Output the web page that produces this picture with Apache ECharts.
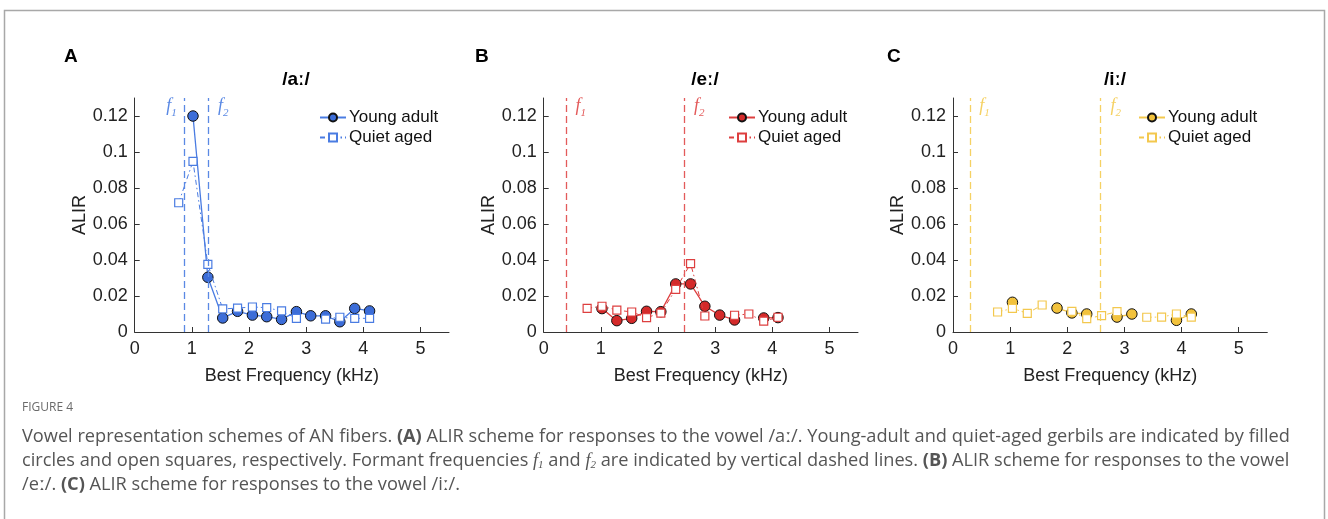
<!DOCTYPE html>
<html>
<head>
<meta charset="utf-8">
<script src="https://cdn.jsdelivr.net/npm/echarts@6/dist/echarts.min.js"></script>
<style>
html,body{margin:0;padding:0;background:#fff;}
#chart{width:1328px;height:519px;}
</style>
</head>
<body>
<div id="chart"></div>
<script>
// ---------- data ----------
const xTicks = [0, 1, 2, 3, 4, 5];
const yTicks = [0, 0.02, 0.04, 0.06, 0.08, 0.1, 0.12];
const panelLetters = ['A', 'B', 'C'];
const vowels = ['/aː/', '/eː/', '/iː/'];
const seriesNames = ['Young adult', 'Quiet aged'];

const aFreq  = [0.77, 1.02, 1.28, 1.54, 1.80, 2.06, 2.31, 2.57, 2.83, 3.08, 3.34, 3.59, 3.85, 4.11];
const aYoung = [null, 0.120, 0.0304, 0.0078, 0.0115, 0.0094, 0.0085, 0.0070, 0.0113, 0.0090, 0.0090, 0.0057, 0.0131, 0.0117];
const aQuiet = [0.0718, 0.0948, 0.0376, 0.0128, 0.0133, 0.0139, 0.0135, 0.0117, 0.0076, null, 0.0072, 0.0082, 0.0076, 0.0076];
const aFormants = [0.856, 1.28];

const bFreq  = [0.76, 1.02, 1.28, 1.54, 1.80, 2.05, 2.31, 2.57, 2.82, 3.08, 3.34, 3.59, 3.85, 4.10];
const bYoung = [null, 0.0130, 0.0063, 0.0076, 0.0115, 0.0113, 0.0267, 0.0267, 0.0143, 0.0094, 0.0067, null, 0.0078, 0.0080];
const bQuiet = [0.0131, 0.0143, 0.0122, 0.0111, 0.0080, 0.0105, 0.0237, 0.0380, 0.0089, null, 0.0093, 0.0100, 0.0060, 0.0082];
const bFormants = [0.40, 2.46];

const cFreq  = [0.78, 1.04, 1.30, 1.56, 1.82, 2.08, 2.34, 2.60, 2.87, 3.13, 3.39, 3.65, 3.91, 4.17];
const cYoung = [null, 0.0165, null, null, 0.0133, 0.0106, 0.0100, null, 0.0083, 0.0100, null, null, 0.0065, 0.0100];
const cQuiet = [0.0111, 0.0131, 0.0104, 0.0150, null, 0.0115, 0.0074, 0.0091, 0.0113, null, 0.0082, 0.0083, 0.0100, 0.0083];
const cFormants = [0.30, 2.58];

const captionTitle = 'FIGURE 4';

// ---------- styling ----------
const FONT = '"Liberation Sans", Arial, Helvetica, sans-serif';
const SERIF = '"Liberation Serif", "DejaVu Serif", serif';
const panels = [
  { freq: aFreq, young: aYoung, quiet: aQuiet, formants: aFormants,
    fill: '#3c6dd8', line: '#4a7ce2', vline: '#5a89e4', left: 134.7,
    labelDx: [-0.21, 0.27], legendLeft: 314 },
  { freq: bFreq, young: bYoung, quiet: bQuiet, formants: bFormants,
    fill: '#d42a2a', line: '#dd3f3f', vline: '#e35a5a', left: 543.7,
    labelDx: [0.25, 0.26], legendLeft: 723 },
  { freq: cFreq, young: cYoung, quiet: cQuiet, formants: cFormants,
    fill: '#f2c23c', line: '#f3c84e', vline: '#f5d163', left: 953,
    labelDx: [0.25, 0.27], legendLeft: 1133 }
];
const GRID_TOP = 98, GRID_H = 234, GRID_W = 314.3;

const toPairs = (xs, ys) => xs.map((x, i) => [x, ys[i] == null ? '-' : ys[i]]);

const grids = [], xAxes = [], yAxes = [], series = [], legends = [], graphics = [];

panels.forEach((p, i) => {
  const L = panelLetters[i];
  grids.push({ left: p.left, top: GRID_TOP, width: GRID_W, height: GRID_H });
  xAxes.push({
    type: 'value', gridIndex: i, min: 0, max: 5.5,
    name: 'Best Frequency (kHz)', nameLocation: 'middle', nameGap: 35,
    nameTextStyle: { fontSize: 18, color: '#222', fontFamily: FONT },
    axisLine: { show: true, lineStyle: { color: '#333', width: 1 } },
    axisTick: { show: true, inside: true, length: 5, customValues: xTicks, lineStyle: { color: '#333' } },
    axisLabel: { customValues: xTicks, fontSize: 18, color: '#222', margin: 8, fontFamily: FONT },
    splitLine: { show: false }
  });
  yAxes.push({
    type: 'value', gridIndex: i, min: 0, max: 0.13,
    name: 'ALIR', nameLocation: 'middle', nameGap: 42, nameRotate: 90,
    nameTextStyle: { fontSize: 18, color: '#222', fontFamily: FONT },
    axisLine: { show: true, lineStyle: { color: '#333', width: 1 } },
    axisTick: { show: true, inside: true, length: 5, customValues: yTicks, lineStyle: { color: '#333' } },
    axisLabel: { customValues: yTicks, fontSize: 18, color: '#222', margin: 7, fontFamily: FONT,
      formatter: v => String(+(+v).toFixed(2)) },
    splitLine: { show: false }
  });
  series.push({
    name: L + ':' + seriesNames[0], type: 'line', xAxisIndex: i, yAxisIndex: i,
    data: toPairs(p.freq, p.young), connectNulls: false,
    symbol: 'circle', symbolSize: 10.5, z: 3,
    itemStyle: { color: p.fill, borderColor: '#111', borderWidth: 1 },
    lineStyle: { color: p.line, width: 1.3, type: 'solid' },
    emphasis: { disabled: true }, animation: false,
    markLine: {
      silent: true, symbol: 'none', label: { show: false },
      lineStyle: { color: p.vline, type: [7, 4], width: 1.3 },
      data: p.formants.map(f => ({ xAxis: f }))
    }
  });
  series.push({
    name: L + ':' + seriesNames[1], type: 'line', xAxisIndex: i, yAxisIndex: i,
    data: toPairs(p.freq, p.quiet), connectNulls: false,
    symbol: 'rect', symbolSize: 8, z: 4,
    itemStyle: { color: '#fff', borderColor: p.line, borderWidth: 1.2 },
    lineStyle: { color: p.line, width: 1, type: [5, 3, 1.5, 3] },
    emphasis: { disabled: true }, animation: false
  });
  // formant labels (f1, f2)
  series.push({
    type: 'scatter', xAxisIndex: i, yAxisIndex: i, silent: true, animation: false, z: 5,
    symbolSize: 1, itemStyle: { color: 'rgba(255,255,255,0)' },
    data: p.formants.map((f, k) => ({ value: [f + p.labelDx[k], 0.1255], sub: String(k + 1) })),
    label: {
      show: true, position: 'inside', opacity: 1,
      formatter: prm => '{f|f}{s|' + prm.data.sub + '}',
      rich: {
        f: { fontFamily: SERIF, fontStyle: 'italic', fontSize: 18, color: p.vline, lineHeight: 26, verticalAlign: 'middle' },
        s: { fontFamily: SERIF, fontStyle: 'italic', fontSize: 11, color: p.vline, lineHeight: 26, verticalAlign: 'bottom' }
      }
    }
  });
  legends.push({
    left: p.legendLeft, top: 104, orient: 'vertical', itemWidth: 26, itemHeight: 10, itemGap: 3,
    data: [L + ':' + seriesNames[0], L + ':' + seriesNames[1]],
    formatter: n => n.slice(2), selectedMode: false,
    textStyle: { fontSize: 17, color: '#111', fontFamily: FONT, padding: [0, 0, 0, -2] }
  });
  graphics.push({ type: 'text', x: [64, 475, 887][i], y: 57,
    style: { text: L, font: 'bold 19px ' + FONT, fill: '#000', verticalAlign: 'middle' } });
  graphics.push({ type: 'text', x: [296, 705, 1115][i], y: 80,
    style: { text: vowels[i], font: 'bold 19px ' + FONT, fill: '#000', align: 'center', verticalAlign: 'middle' } });
});

// frame and caption
graphics.push({ type: 'rect', shape: { x: 4.5, y: 10.5, width: 1320, height: 530 },
  style: { fill: 'none', stroke: '#a8a8a8', lineWidth: 1.5 }, z: -1 });
const CAP = '"Open Sans", "Noto Sans", sans-serif';
graphics.push({ type: 'text', x: 22, y: 408,
  style: { text: captionTitle, font: '12px ' + CAP, fill: '#6a6a6a', verticalAlign: 'middle' } });
const capRich = {
  b: { fontWeight: 'bold', fontSize: 18.2, fontFamily: CAP, fill: '#555' },
  i: { fontStyle: 'italic', fontSize: 18.2, fontFamily: SERIF, fill: '#555' },
  s: { fontStyle: 'italic', fontSize: 11, fontFamily: SERIF, fill: '#555', padding: [9, 0, 0, 0] }
};
const capLines = [
  'Vowel representation schemes of AN fibers. {b|(A)} ALIR scheme for responses to the vowel /aː/. Young-adult and quiet-aged gerbils are indicated by filled',
  'circles and open squares, respectively. Formant frequencies {i|f}{s|1} and {i|f}{s|2} are indicated by vertical dashed lines. {b|(B)} ALIR scheme for responses to the vowel',
  '/eː/. {b|(C)} ALIR scheme for responses to the vowel /iː/.'
];
capLines.forEach((t, k) => {
  graphics.push({ type: 'text', x: 22, y: 437 + 24 * k,
    style: { text: t, font: '18.2px ' + CAP, fill: '#555', verticalAlign: 'middle', rich: capRich } });
});

const chart = echarts.init(document.getElementById('chart'), null, { renderer: 'canvas' });
chart.setOption({
  backgroundColor: '#fff',
  animation: false,
  grid: grids, xAxis: xAxes, yAxis: yAxes, series: series, legend: legends,
  graphic: graphics
});
</script>
</body>
</html>
